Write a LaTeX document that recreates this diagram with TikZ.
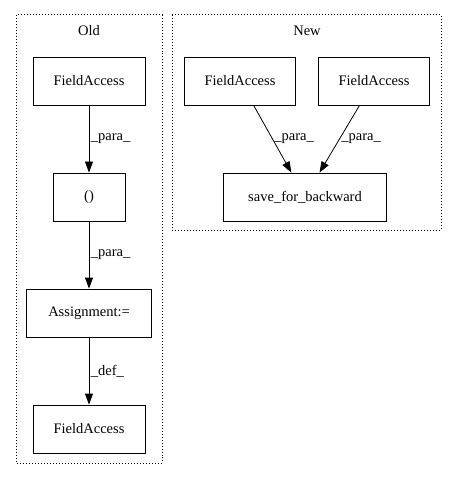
\documentclass[tikz,border=0pt]{standalone}
\usepackage{fontspec}
\setmainfont{Liberation Serif}
\usetikzlibrary{arrows.meta}
\tikzset{
  box/.style={draw, line width=0.8bp, minimum height=48bp, inner sep=0pt, font=\fontsize{14.5bp}{16bp}\selectfont},
  lbl/.style={font=\fontsize{14.5bp}{16bp}\selectfont, inner sep=1.5bp},
  cluster/.style={draw, dotted, line width=1bp},
  edge/.style={line width=0.8bp, -{Stealth[length=11bp,width=8bp,inset=0pt]}}
}
\begin{document}
\begin{tikzpicture}[x=1bp, y=-1bp]
		%%%%% START %%%%%
		\useasboundingbox (0, 0) rectangle (457, 480);
		
		% old
		\draw[cluster] (16, 15) rectangle (162, 463);
		\node[lbl] (oldtitle) at (89, 31) {Old};
		\node[box, minimum width=112bp] (oldfa) at (89, 81) {FieldAccess};
		\node[box, minimum width=72bp] (paren) at (89, 197) {()};
		\node[box, minimum width=125bp] (assign) at (89, 313) {Assignment:=};
		\node[box, minimum width=112bp] (deffa) at (89, 429) {FieldAccess};
		\draw[edge] (oldfa) -- node[lbl, midway, right] {\_para\_} (paren);
		\draw[edge] (paren) -- node[lbl, midway, right] {\_para\_} (assign);
		\draw[edge] (assign) -- node[lbl, midway, right] {\_def\_} (deffa);
		
		% new
		\draw[cluster] (172, 15) rectangle (441, 230);
		\node[lbl] (newtitle) at (307, 31) {New};
		\node[box, minimum width=111bp] (newfa1) at (240, 81) {FieldAccess};
		\node[box, minimum width=111bp] (newfa2) at (374, 81) {FieldAccess};
		\node[box, minimum width=163bp] (save) at (305, 197) {save\_for\_backward};
		\draw[edge] (newfa1) -- node[lbl, midway, right] {\_para\_} (save);
		\draw[edge] (newfa2) -- node[lbl, midway, right] {\_para\_} (save);
		
		%%%%% END %%%%%
\end{tikzpicture}
\end{document}
